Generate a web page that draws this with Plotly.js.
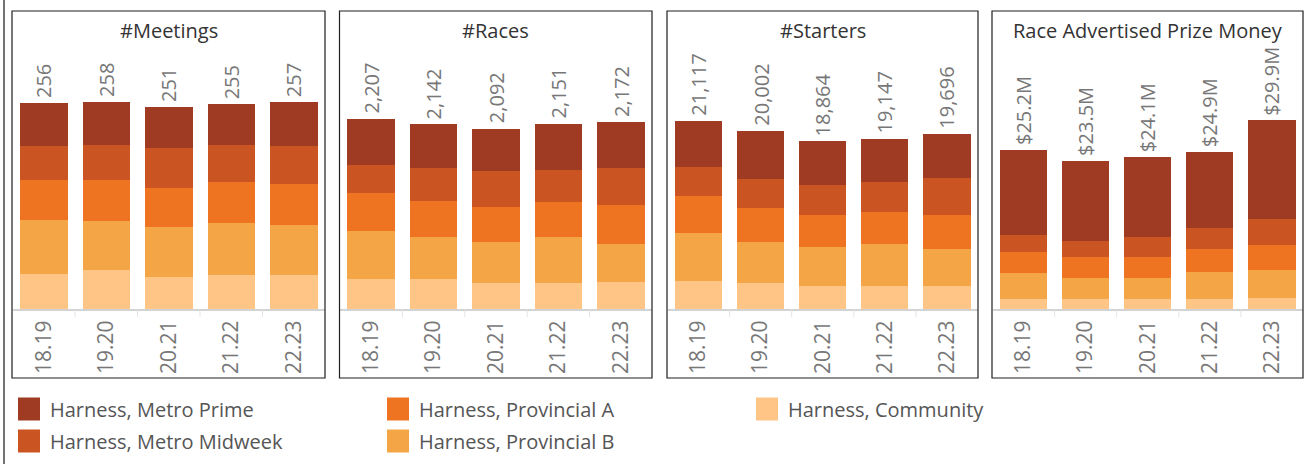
<!DOCTYPE html>
<html>
<head>
<meta charset="utf-8">
<script src="https://cdn.plot.ly/plotly-3.0.1.min.js"></script>
<style>html,body{margin:0;padding:0;background:#fff;}#chart{width:1311px;height:464px;}</style>
</head>
<body>
<div id="chart"></div>
<script>
// ---- data ----
const years = ['18.19', '19.20', '20.21', '21.22', '22.23'];
const seriesNames = ['Harness, Metro Prime', 'Harness, Metro Midweek', 'Harness, Provincial A', 'Harness, Provincial B', 'Harness, Community'];
const panelTitles = ['#Meetings', '#Races', '#Starters', 'Race Advertised Prize Money'];

const meetingsMetroPrime   = [53, 54, 51, 51, 54];
const meetingsMetroMidweek = [42, 43, 49, 46, 48];
const meetingsProvincialA  = [50, 52, 49, 51, 50];
const meetingsProvincialB  = [67, 61, 62, 65, 63];
const meetingsCommunity    = [44, 48, 40, 42, 42];

const racesMetroPrime   = [534, 511, 496, 534, 533];
const racesMetroMidweek = [325, 383, 415, 371, 429];
const racesProvincialA  = [441, 407, 404, 406, 452];
const racesProvincialB  = [556, 488, 473, 534, 441];
const racesCommunity    = [351, 353, 304, 306, 317];

const startersMetroPrime   = [5185, 5354, 4931, 4834, 4943];
const startersMetroMidweek = [3269, 3346, 3362, 3373, 4157];
const startersProvincialA  = [4170, 3792, 3586, 3597, 3820];
const startersProvincialB  = [5297, 4573, 4370, 4722, 4157];
const startersCommunity    = [3196, 2937, 2615, 2621, 2619];

// prize money, $ millions
const prizeMetroPrime   = [13.45, 12.67, 12.66, 12.03, 15.64];
const prizeMetroMidweek = [2.69, 2.53, 3.16, 3.32, 4.15];
const prizeProvincialA  = [3.32, 3.33, 3.32, 3.64, 3.99];
const prizeProvincialB  = [4.11, 3.33, 3.32, 4.27, 4.31];
const prizeCommunity    = [1.63, 1.64, 1.64, 1.64, 1.81];

// ---- styling ----
const colors = ['#9f3b22', '#ca5422', '#ee7421', '#f4a646', '#fec586'];
const W = 1311, H = 464;
const FONT = '"Open Sans", "Noto Sans", sans-serif';

const panels = [
  {title: panelTitles[0], data: [meetingsMetroPrime, meetingsMetroMidweek, meetingsProvincialA, meetingsProvincialB, meetingsCommunity], unitsPerPx: 1.2445, fmt: v => Math.round(v).toLocaleString('en-US'), box: [12, 325]},
  {title: panelTitles[1], data: [racesMetroPrime, racesMetroMidweek, racesProvincialA, racesProvincialB, racesCommunity], unitsPerPx: 11.6, fmt: v => Math.round(v).toLocaleString('en-US'), box: [339.5, 652]},
  {title: panelTitles[2], data: [startersMetroPrime, startersMetroMidweek, startersProvincialA, startersProvincialB, startersCommunity], unitsPerPx: 112.4, fmt: v => Math.round(v).toLocaleString('en-US'), box: [667, 978]},
  {title: panelTitles[3], data: [prizeMetroPrime, prizeMetroMidweek, prizeProvincialA, prizeProvincialB, prizeCommunity], unitsPerPx: 0.1585, fmt: v => '$' + v.toFixed(1) + 'M', box: [992, 1303]}
];

const baseY = 309, plotTopY = 40, boxTop = 11, boxBottom = 378;
const px = x => x / W, py = y => 1 - y / H;

const traces = [];
const annotations = [];
const shapes = [];
const layout = {
  width: W, height: H,
  margin: {l: 0, r: 0, t: 0, b: 0},
  paper_bgcolor: '#fff', plot_bgcolor: 'rgba(0,0,0,0)',
  barmode: 'stack', bargap: 0.24,
  showlegend: false,
  font: {family: FONT, color: '#777', size: 20},
};

panels.forEach((p, i) => {
  const n = i === 0 ? '' : String(i + 1);
  const xa = 'x' + n, ya = 'y' + n;
  // stack bottom-up: community first
  for (let s = seriesNames.length - 1; s >= 0; s--) {
    traces.push({
      type: 'bar', x: years, y: p.data[s], name: seriesNames[s],
      marker: {color: colors[s], line: {width: 0}},
      xaxis: xa, yaxis: ya, hoverinfo: 'x+y+name'
    });
  }
  const totals = years.map((_, k) => p.data.reduce((a, arr) => a + arr[k], 0));
  const h = baseY - plotTopY;
  layout['xaxis' + n] = {
    domain: [px(p.box[0] + 0.5), px(p.box[1])],
    anchor: ya, type: 'category', range: [-0.5, years.length - 0.5],
    tickmode: 'array', tickvals: years, ticktext: years,
    showline: true, linecolor: '#d3d3d3', linewidth: 2,
    ticks: 'outside', ticklen: 1, tickcolor: 'rgba(0,0,0,0)', tickwidth: 1,
    tickangle: -90, tickfont: {family: FONT, size: 21, color: '#777'},
    showgrid: false, zeroline: false, fixedrange: true
  };
  layout['yaxis' + n] = {
    domain: [py(baseY), py(plotTopY)],
    anchor: xa, range: [0, h * p.unitsPerPx],
    showgrid: false, zeroline: false, showticklabels: false, showline: false, ticks: '', fixedrange: true
  };
  // faint category dividers under the baseline
  for (let k = 0; k < years.length - 1; k++) {
    shapes.push({
      type: 'line', xref: xa, yref: 'paper', x0: k + 0.5, x1: k + 0.5,
      y0: py(baseY + 1), y1: py(baseY + 8), line: {color: '#e4e4e4', width: 1}
    });
  }
  years.forEach((yr, k) => {
    annotations.push({
      x: k, y: totals[k], xref: xa, yref: ya,
      text: p.fmt(totals[k]), textangle: -90,
      showarrow: false, yanchor: 'bottom', xanchor: 'center', yshift: 3,
      font: {family: FONT, size: 20, color: '#777'}
    });
  });
  // panel title
  annotations.push({
    x: px((p.box[0] + p.box[1]) / 2), y: py(31), xref: 'paper', yref: 'paper',
    text: p.title, showarrow: false, xanchor: 'center', yanchor: 'middle',
    font: {family: FONT, size: 20, color: '#333'}
  });
  // panel box
  shapes.push({
    type: 'rect', xref: 'paper', yref: 'paper',
    x0: px(p.box[0]), x1: px(p.box[1]), y0: py(boxBottom), y1: py(boxTop),
    line: {color: '#1e1e1e', width: 1.2}, fillcolor: 'rgba(0,0,0,0)'
  });
});

// outer left border
shapes.push({type: 'line', xref: 'paper', yref: 'paper', x0: px(4), x1: px(4), y0: 0, y1: 1, line: {color: '#444', width: 1.5}});

// legend (drawn manually, column-major: 2 rows)
const legendCols = [18, 387, 756];
const legendRows = [409, 441];
seriesNames.forEach((name, s) => {
  const col = Math.floor(s / 2), row = s % 2;
  const lx = legendCols[col], ly = legendRows[row];
  shapes.push({
    type: 'rect', xref: 'paper', yref: 'paper',
    x0: px(lx), x1: px(lx + 22), y0: py(ly + 11.5), y1: py(ly - 11.5),
    fillcolor: colors[s], line: {width: 0}
  });
  annotations.push({
    x: px(lx + 30), y: py(ly), xref: 'paper', yref: 'paper',
    text: name, showarrow: false, xanchor: 'left', yanchor: 'middle',
    font: {family: FONT, size: 20, color: '#555'}
  });
});

layout.annotations = annotations;
layout.shapes = shapes;

Plotly.newPlot('chart', traces, layout, {displayModeBar: false, staticPlot: true});
</script>
</body>
</html>
